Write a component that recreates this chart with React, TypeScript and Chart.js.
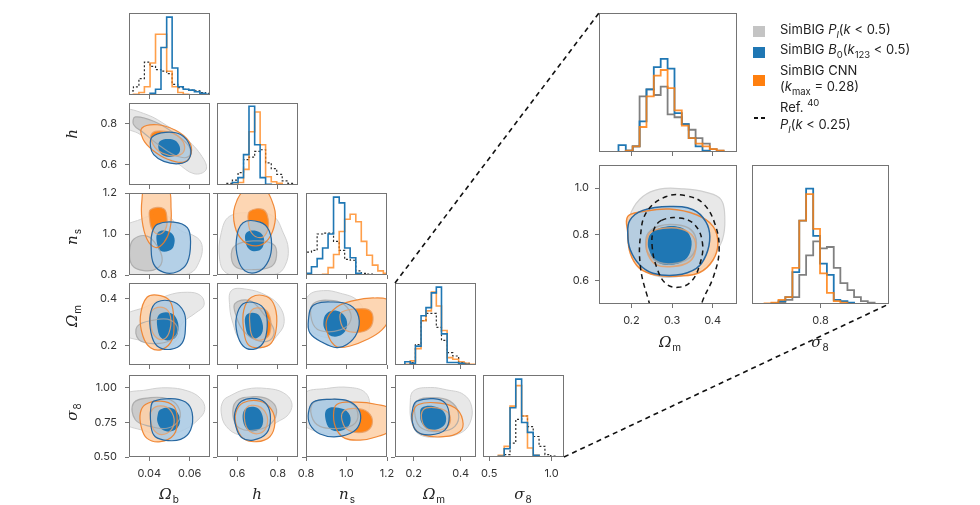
import React, { useEffect, useRef } from 'react';
import { Chart, registerables } from 'chart.js';

Chart.register(...registerables);

// ---------------- axis ranges & ticks ----------------
const OB_RANGE = [0.03, 0.07];
const H_RANGE = [0.5, 0.9];
const NS_RANGE = [0.8, 1.2];
const OM_RANGE = [0.12, 0.465];
const S8_RANGE = [0.5, 1.09];
const S8_HIST_RANGE = [0.45, 1.1];
const INSET_OM_RANGE = [0.12, 0.46];
const INSET_S8_RANGE = [0.5, 1.1];

const OB_TICKS = [0.04, 0.06];
const H_TICKS = [0.6, 0.8];
const NS_TICKS = [0.8, 1.0, 1.2];
const OM_TICKS = [0.2, 0.4];
const S8_TICKS_Y = [0.5, 0.75, 1.0];
const S8_TICKS_X = [0.5, 1.0];
const INSET_OM_TICKS = [0.2, 0.3, 0.4];
const INSET_S8_TICKS = [0.6, 0.8, 1.0];
const INSET_S8_HIST_TICKS = [0.8];

// ---------------- contours (x, y) : 2 = 95%, 1 = 68% ----------------
// Omega_b vs h
const OB_H_G2 = [[0.027,0.866],[0.0389,0.843],[0.0488,0.789],[0.0588,0.721],[0.067,0.624],[0.0679,0.572],[0.0621,0.555],[0.0538,0.607],[0.0439,0.672],[0.0356,0.746],[0.027,0.79]];
const OB_H_G1 = [[0.0331,0.832],[0.0422,0.811],[0.0521,0.754],[0.0596,0.689],[0.0596,0.64],[0.0538,0.64],[0.0455,0.689],[0.0373,0.754],[0.0323,0.794]];
const OB_H_O2 = [[0.0364,0.778],[0.0439,0.794],[0.053,0.767],[0.0596,0.713],[0.0607,0.653],[0.0571,0.612],[0.0488,0.627],[0.0414,0.672],[0.0369,0.724]];
const OB_H_O1 = [[0.0414,0.753],[0.0488,0.76],[0.0555,0.727],[0.0574,0.672],[0.0538,0.643],[0.0464,0.656],[0.0419,0.697]];
const OB_H_B2 = [[0.0414,0.734],[0.048,0.757],[0.0555,0.746],[0.0601,0.689],[0.0596,0.627],[0.0546,0.604],[0.0472,0.615],[0.0422,0.648],[0.0406,0.689]];
const OB_H_B1 = [[0.0452,0.713],[0.0505,0.724],[0.0541,0.705],[0.0551,0.664],[0.0521,0.64],[0.0472,0.643],[0.0447,0.672]];
// Omega_b vs n_s
const OB_NS_G2 = [[0.027,1.023],[0.0356,1.071],[0.0439,1.095],[0.0505,1.079],[0.0546,1.023],[0.0637,0.982],[0.0662,0.934],[0.0645,0.861],[0.0604,0.81],[0.0505,0.797],[0.0356,0.797],[0.027,0.821]];
const OB_NS_G1 = [[0.0323,0.974],[0.0389,0.99],[0.0439,0.942],[0.0464,0.877],[0.0439,0.832],[0.0373,0.821],[0.0315,0.848],[0.0303,0.918]];
const OB_NS_O2 = [[0.0381,1.224],[0.0488,1.224],[0.0508,1.119],[0.0502,1.023],[0.0472,0.958],[0.0431,0.934],[0.0389,0.974],[0.0364,1.071],[0.0364,1.168]];
const OB_NS_O1 = [[0.0406,1.119],[0.0472,1.123],[0.0488,1.071],[0.048,1.023],[0.0447,0.998],[0.0414,1.023],[0.0402,1.071]];
const OB_NS_B2 = [[0.0439,1.047],[0.0521,1.058],[0.0588,1.031],[0.0604,0.958],[0.0588,0.861],[0.0538,0.816],[0.0472,0.813],[0.0422,0.853],[0.0409,0.942],[0.0414,1.006]];
const OB_NS_B1 = [[0.0442,1.006],[0.0488,1.015],[0.0521,0.99],[0.0521,0.942],[0.0497,0.918],[0.0455,0.918],[0.0439,0.95]];
// h vs n_s
const H_NS_G2 = [[0.563,1.087],[0.679,1.103],[0.778,1.087],[0.827,1.006],[0.852,0.926],[0.836,0.845],[0.794,0.805],[0.645,0.794],[0.546,0.81],[0.513,0.877],[0.521,1.006]];
const H_NS_G1 = [[0.588,0.942],[0.679,0.966],[0.778,0.95],[0.794,0.894],[0.769,0.842],[0.679,0.826],[0.596,0.837],[0.571,0.885]];
const H_NS_O2 = [[0.645,1.224],[0.728,1.224],[0.781,1.135],[0.786,1.055],[0.753,0.974],[0.695,0.942],[0.629,0.966],[0.588,1.039],[0.588,1.135]];
const H_NS_O1 = [[0.662,1.111],[0.728,1.119],[0.753,1.071],[0.745,1.006],[0.712,0.982],[0.67,1.006],[0.654,1.063]];
const H_NS_B2 = [[0.629,1.055],[0.712,1.058],[0.758,1.015],[0.769,0.926],[0.745,0.853],[0.695,0.813],[0.637,0.821],[0.604,0.877],[0.596,0.974]];
const H_NS_B1 = [[0.645,1.006],[0.695,1.015],[0.728,0.99],[0.728,0.942],[0.703,0.918],[0.662,0.923],[0.642,0.958]];
// Omega_b vs Omega_m
const OB_OM_G2 = [[0.027,0.323],[0.0389,0.367],[0.0488,0.412],[0.0588,0.426],[0.0654,0.412],[0.067,0.371],[0.0629,0.339],[0.0563,0.295],[0.0538,0.227],[0.0472,0.197],[0.0373,0.22],[0.027,0.252]];
const OB_OM_G1 = [[0.034,0.282],[0.0422,0.309],[0.0505,0.309],[0.0541,0.268],[0.0505,0.224],[0.0422,0.21],[0.0348,0.227]];
const OB_OM_O2 = [[0.0389,0.405],[0.0455,0.412],[0.0505,0.385],[0.0521,0.309],[0.0513,0.227],[0.0464,0.186],[0.0406,0.193],[0.0369,0.241],[0.0356,0.323]];
const OB_OM_O1 = [[0.0414,0.35],[0.0472,0.361],[0.0505,0.323],[0.0497,0.254],[0.0464,0.227],[0.0422,0.248],[0.0406,0.302]];
const OB_OM_B2 = [[0.0439,0.385],[0.0521,0.385],[0.0571,0.343],[0.0579,0.282],[0.0563,0.213],[0.0505,0.186],[0.0439,0.2],[0.0409,0.254],[0.0406,0.337]];
const OB_OM_B1 = [[0.0447,0.33],[0.0505,0.339],[0.0538,0.309],[0.0541,0.254],[0.0513,0.227],[0.0464,0.23],[0.0442,0.268]];
// h vs Omega_m
const H_OM_G2 = [[0.571,0.433],[0.645,0.439],[0.745,0.412],[0.811,0.364],[0.831,0.295],[0.794,0.241],[0.745,0.2],[0.679,0.193],[0.612,0.227],[0.579,0.295],[0.563,0.364]];
const H_OM_G1 = [[0.588,0.378],[0.662,0.391],[0.728,0.337],[0.781,0.268],[0.761,0.224],[0.695,0.224],[0.629,0.265],[0.596,0.323]];
const H_OM_O2 = [[0.67,0.405],[0.745,0.408],[0.786,0.364],[0.794,0.282],[0.769,0.213],[0.712,0.193],[0.654,0.206],[0.632,0.268],[0.632,0.35]];
const H_OM_O1 = [[0.67,0.35],[0.728,0.357],[0.761,0.323],[0.761,0.254],[0.728,0.227],[0.679,0.234],[0.662,0.295]];
const H_OM_B2 = [[0.629,0.378],[0.695,0.38],[0.736,0.35],[0.748,0.282],[0.728,0.213],[0.679,0.186],[0.629,0.2],[0.599,0.254],[0.596,0.323]];
const H_OM_B1 = [[0.645,0.33],[0.695,0.337],[0.72,0.309],[0.725,0.261],[0.698,0.234],[0.662,0.238],[0.642,0.275]];
// n_s vs Omega_m
const NS_OM_G2 = [[0.812,0.412],[0.886,0.433],[0.969,0.422],[1.051,0.394],[1.088,0.337],[1.068,0.268],[1.002,0.238],[0.886,0.238],[0.812,0.275],[0.79,0.337]];
const NS_OM_G1 = [[0.836,0.378],[0.936,0.391],[1.002,0.364],[1.021,0.309],[0.969,0.268],[0.869,0.265],[0.828,0.309]];
const NS_OM_O2 = [[0.952,0.364],[1.035,0.391],[1.134,0.402],[1.215,0.389],[1.215,0.323],[1.175,0.268],[1.101,0.227],[1.018,0.2],[0.952,0.197],[0.911,0.241],[0.902,0.309]];
const NS_OM_O1 = [[0.977,0.343],[1.068,0.357],[1.117,0.348],[1.131,0.309],[1.109,0.271],[1.051,0.257],[0.993,0.268],[0.969,0.309]];
const NS_OM_B2 = [[0.836,0.371],[0.936,0.385],[1.018,0.371],[1.06,0.323],[1.051,0.254],[1.002,0.206],[0.952,0.193],[0.886,0.213],[0.82,0.254],[0.812,0.309]];
const NS_OM_B1 = [[0.902,0.337],[0.952,0.348],[0.993,0.323],[1.002,0.282],[0.977,0.248],[0.927,0.241],[0.894,0.268],[0.886,0.302]];
// Omega_b vs sigma_8
const OB_S8_G2 = [[0.027,0.939],[0.0389,0.983],[0.0488,0.998],[0.0588,0.976],[0.0654,0.92],[0.0674,0.841],[0.0641,0.768],[0.0571,0.695],[0.0472,0.659],[0.0373,0.69],[0.027,0.756]];
const OB_S8_G1 = [[0.0323,0.89],[0.0406,0.927],[0.0488,0.92],[0.0541,0.866],[0.0548,0.768],[0.0488,0.707],[0.0406,0.72],[0.0331,0.768]];
const OB_S8_O2 = [[0.0381,0.878],[0.0455,0.902],[0.0521,0.866],[0.0538,0.768],[0.0521,0.659],[0.0455,0.61],[0.0389,0.634],[0.036,0.72],[0.0356,0.817]];
const OB_S8_O1 = [[0.0414,0.841],[0.0472,0.866],[0.0513,0.817],[0.0521,0.732],[0.0488,0.671],[0.0439,0.671],[0.0409,0.744]];
const OB_S8_B2 = [[0.0422,0.902],[0.0505,0.92],[0.0579,0.895],[0.0612,0.817],[0.0604,0.695],[0.0555,0.627],[0.0472,0.622],[0.0422,0.659],[0.0406,0.768],[0.0409,0.866]];
const OB_S8_B1 = [[0.0455,0.841],[0.0505,0.854],[0.0541,0.817],[0.0551,0.744],[0.0521,0.69],[0.0472,0.69],[0.0442,0.744],[0.0442,0.805]];
// h vs sigma_8
const H_S8_G2 = [[0.563,0.939],[0.645,0.988],[0.745,0.993],[0.827,0.963],[0.869,0.89],[0.852,0.805],[0.794,0.749],[0.712,0.671],[0.612,0.659],[0.546,0.72],[0.521,0.817],[0.53,0.902]];
const H_S8_G1 = [[0.596,0.902],[0.679,0.934],[0.753,0.915],[0.794,0.841],[0.769,0.744],[0.695,0.695],[0.612,0.707],[0.579,0.793]];
const H_S8_O2 = [[0.629,0.89],[0.712,0.902],[0.769,0.841],[0.786,0.744],[0.761,0.646],[0.695,0.61],[0.629,0.634],[0.596,0.72],[0.593,0.817]];
const H_S8_O1 = [[0.645,0.854],[0.703,0.866],[0.745,0.805],[0.745,0.72],[0.712,0.671],[0.662,0.683],[0.637,0.756]];
const H_S8_B2 = [[0.621,0.902],[0.695,0.92],[0.745,0.878],[0.764,0.78],[0.745,0.671],[0.679,0.622],[0.621,0.641],[0.593,0.72],[0.588,0.817]];
const H_S8_B1 = [[0.637,0.841],[0.687,0.859],[0.72,0.817],[0.725,0.732],[0.695,0.69],[0.654,0.695],[0.629,0.756]];
// n_s vs sigma_8
const NS_S8_G2 = [[0.79,0.951],[0.902,0.993],[1.018,1.0],[1.093,0.963],[1.114,0.866],[1.084,0.756],[1.035,0.683],[0.952,0.666],[0.853,0.683],[0.79,0.744]];
const NS_S8_G1 = [[0.836,0.89],[0.919,0.915],[1.002,0.902],[1.051,0.841],[1.043,0.744],[0.969,0.707],[0.869,0.72],[0.828,0.793]];
const NS_S8_O2 = [[0.952,0.878],[1.051,0.895],[1.15,0.878],[1.215,0.841],[1.215,0.695],[1.15,0.646],[1.068,0.622],[0.993,0.634],[0.952,0.695],[0.936,0.793]];
const NS_S8_O1 = [[0.985,0.829],[1.068,0.846],[1.117,0.805],[1.126,0.732],[1.093,0.683],[1.026,0.683],[0.985,0.732]];
const NS_S8_B2 = [[0.836,0.895],[0.919,0.915],[1.01,0.902],[1.06,0.841],[1.068,0.756],[1.035,0.683],[0.952,0.646],[0.869,0.666],[0.82,0.732],[0.812,0.817]];
const NS_S8_B1 = [[0.902,0.841],[0.96,0.854],[1.01,0.817],[1.018,0.744],[0.985,0.695],[0.927,0.695],[0.899,0.756]];
// Omega_m vs sigma_8 (corner)
const OM_S8_G2 = [[0.199,0.976],[0.27,1.0],[0.34,0.983],[0.411,0.951],[0.446,0.866],[0.439,0.744],[0.397,0.671],[0.312,0.646],[0.227,0.659],[0.192,0.744],[0.185,0.89]];
const OM_S8_G1 = [[0.213,0.902],[0.284,0.927],[0.354,0.902],[0.39,0.817],[0.375,0.72],[0.312,0.683],[0.234,0.707],[0.206,0.793]];
const OM_S8_O2 = [[0.22,0.878],[0.298,0.89],[0.375,0.854],[0.408,0.768],[0.397,0.683],[0.326,0.646],[0.241,0.659],[0.199,0.72],[0.196,0.817]];
const OM_S8_O1 = [[0.241,0.841],[0.298,0.854],[0.347,0.817],[0.354,0.744],[0.326,0.7],[0.27,0.695],[0.238,0.744]];
const OM_S8_B2 = [[0.213,0.902],[0.284,0.92],[0.333,0.89],[0.351,0.793],[0.333,0.695],[0.27,0.659],[0.213,0.683],[0.192,0.768],[0.196,0.854]];
const OM_S8_B1 = [[0.234,0.854],[0.284,0.866],[0.326,0.829],[0.337,0.756],[0.312,0.707],[0.262,0.7],[0.234,0.744],[0.227,0.805]];
// Omega_m vs sigma_8 (zoomed inset)
const IN_G2 = [[0.2,0.899],[0.228,0.964],[0.269,0.996],[0.327,0.997],[0.384,0.982],[0.421,0.95],[0.43,0.863],[0.424,0.777],[0.405,0.719],[0.384,0.669],[0.335,0.625],[0.269,0.618],[0.22,0.662],[0.196,0.734],[0.191,0.82]];
const IN_G1 = [[0.241,0.806],[0.269,0.837],[0.31,0.842],[0.347,0.82],[0.36,0.762],[0.347,0.705],[0.31,0.676],[0.269,0.679],[0.241,0.719],[0.235,0.762]];
const IN_O2 = [[0.191,0.878],[0.228,0.899],[0.294,0.91],[0.36,0.885],[0.401,0.835],[0.413,0.762],[0.401,0.69],[0.368,0.636],[0.319,0.621],[0.261,0.625],[0.22,0.654],[0.197,0.719],[0.191,0.806]];
const IN_O1 = [[0.245,0.806],[0.278,0.827],[0.323,0.824],[0.352,0.791],[0.358,0.734],[0.343,0.683],[0.302,0.662],[0.261,0.669],[0.241,0.712],[0.237,0.755]];
const IN_B2 = [[0.196,0.861],[0.228,0.904],[0.294,0.921],[0.352,0.907],[0.383,0.856],[0.393,0.791],[0.384,0.712],[0.36,0.654],[0.31,0.625],[0.253,0.633],[0.22,0.669],[0.197,0.734],[0.191,0.798]];
const IN_B1 = [[0.249,0.806],[0.278,0.832],[0.319,0.832],[0.343,0.798],[0.347,0.741],[0.331,0.69],[0.294,0.669],[0.261,0.683],[0.243,0.734],[0.241,0.777]];
const REF_OUTER = [[0.31,0.3],[0.269,0.388],[0.237,0.546],[0.222,0.662],[0.222,0.791],[0.238,0.899],[0.286,0.964],[0.335,0.967],[0.376,0.935],[0.405,0.849],[0.416,0.734],[0.402,0.618],[0.376,0.517],[0.352,0.388]];
const REF_INNER = [[0.274,0.861],[0.319,0.871],[0.356,0.842],[0.375,0.762],[0.368,0.669],[0.347,0.597],[0.315,0.572],[0.284,0.589],[0.263,0.654],[0.251,0.748],[0.255,0.82]];

// ---------------- histograms (bin edges, heights as share of panel) ----------------
const OB_EDGES = [0.0295,0.0322,0.0349,0.0376,0.0404,0.0431,0.0458,0.0486,0.0513,0.0541,0.0568,0.0595,0.0623,0.065,0.0678,0.0705];
const OB_BLUE = [0,0,0,0,0.02,0.07,0.58,0.95,0.33,0.1,0.07,0.06,0.04,0.02,0.01];
const OB_ORANGE = [0,0.01,0.03,0.1,0.39,0.74,0.74,0.29,0.1,0.03,0.01,0,0,0,0];
const OB_REF = [0.05,0.1,0.2,0.4,0.35,0.31,0.29,0.26,0.13,0.09,0.07,0.06,0.05,0.03,0.02];

const H_EDGES = [0.495,0.522,0.549,0.576,0.604,0.631,0.658,0.686,0.713,0.74,0.768,0.795,0.822,0.85,0.877,0.904];
const H_BLUE = [0,0,0,0.03,0.09,0.37,0.96,0.49,0.09,0.01,0,0,0,0,0];
const H_ORANGE = [0,0,0,0.01,0.03,0.19,0.65,0.89,0.49,0.1,0.04,0.02,0,0,0];
const H_REF = [0,0,0.02,0.06,0.15,0.31,0.34,0.41,0.43,0.27,0.2,0.13,0.05,0.02,0];

const NS_EDGES = [0.8,0.827,0.855,0.882,0.909,0.936,0.964,0.991,1.018,1.046,1.073,1.1,1.128,1.155,1.182,1.209];
const NS_BLUE = [0.02,0.1,0.2,0.33,0.5,0.95,0.88,0.33,0.21,0.02,0,0,0,0,0];
const NS_ORANGE = [0,0,0,0.01,0.09,0.25,0.53,0.68,0.74,0.65,0.41,0.24,0.12,0.05,0.02];
const NS_REF = [0.28,0.3,0.5,0.51,0.51,0.41,0.3,0.19,0.18,0.05,0.02,0.01,0,0,0];

const OM_EDGES = [0.116,0.139,0.162,0.185,0.207,0.231,0.252,0.275,0.296,0.318,0.342,0.366,0.391,0.414,0.436,0.46];
const OM_BLUE = [0,0,0.04,0.02,0.23,0.6,0.7,0.88,0.95,0.38,0.03,0.03,0.02,0.01,0];
const OM_ORANGE = [0,0,0.01,0.05,0.2,0.54,0.66,0.89,0.72,0.42,0.09,0.07,0.04,0.02,0.01];
const OM_REF = [0,0,0,0.03,0.25,0.54,0.63,0.63,0.46,0.3,0.15,0.11,0.03,0.02,0];

const S8_EDGES = [0.48,0.527,0.573,0.62,0.667,0.713,0.76,0.807,0.853,0.9,0.947,0.993,1.04,1.087];
const S8_BLUE = [0,0,0.01,0.1,0.6,0.95,0.42,0.3,0.02,0,0,0,0];
const S8_ORANGE = [0,0,0.02,0.13,0.62,0.87,0.5,0.11,0.02,0,0,0,0];
const S8_REF = [0,0,0,0.03,0.17,0.46,0.5,0.37,0.25,0.13,0.03,0.01,0];

const IOM_EDGES = [0.134,0.151,0.168,0.186,0.203,0.22,0.237,0.255,0.272,0.289,0.306,0.324,0.341,0.358,0.375,0.393,0.41,0.427,0.444];
const IOM_BLUE = [0,0,0.05,0.01,0.04,0.22,0.45,0.61,0.67,0.6,0.28,0.2,0.1,0.04,0.01,0,0,0];
const IOM_ORANGE = [0,0,0,0.01,0.04,0.18,0.4,0.55,0.59,0.46,0.3,0.19,0.1,0.06,0.04,0.02,0.01,0];
const IOM_GRAY = [0,0,0,0.01,0.04,0.4,0.45,0.41,0.47,0.27,0.25,0.2,0.16,0.1,0.06,0.02,0.01,0];

const IS8_EDGES = [0.555,0.585,0.616,0.646,0.677,0.707,0.737,0.768,0.798,0.828,0.858,0.887,0.918,0.947,0.977,1.007,1.037];
const IS8_BLUE = [0,0.005,0.02,0.05,0.23,0.6,0.83,0.49,0.29,0.21,0.03,0.02,0.01,0,0,0];
const IS8_ORANGE = [0.005,0.01,0.03,0.05,0.26,0.6,0.79,0.54,0.22,0.08,0.02,0.01,0,0,0,0];
const IS8_GRAY = [0,0,0.01,0.03,0.05,0.21,0.35,0.45,0.4,0.41,0.26,0.15,0.1,0.05,0.02,0.01];

// ---------------- styling ----------------
const M = 40;
const FONT = "Inter, 'DejaVu Sans', sans-serif";
const SERIF = "'DejaVu Serif', 'Liberation Serif', serif";
const FRAME = '#747474';
const BLUE = '#1f77b4';
const ORANGE = '#ff7f0e';

const toPts = (arr) => arr.map(([x, y]) => ({ x, y }));

function fillDs(data, color) {
  return { data: toPts(data), showLine: true, closed: true, fill: 'shape', backgroundColor: color,
    borderWidth: 0, borderColor: 'rgba(0,0,0,0)', pointRadius: 0, pointHoverRadius: 0, tension: 0.4, capBezierPoints: false };
}
function lineDs(data, color, width, dash = []) {
  return { data: toPts(data), showLine: true, closed: true, fill: false, backgroundColor: 'rgba(0,0,0,0)',
    borderColor: color, borderWidth: width, borderDash: dash, pointRadius: 0, pointHoverRadius: 0, tension: 0.4, capBezierPoints: false };
}
function histDs(edges, counts, color, width, dash = []) {
  const pts = [{ x: edges[0], y: 0 }];
  counts.forEach((c, i) => pts.push({ x: edges[i], y: c }));
  pts.push({ x: edges[edges.length - 1], y: 0 });
  return { data: pts, showLine: true, stepped: true, fill: false, borderColor: color, borderWidth: width,
    borderDash: dash, pointRadius: 0, pointHoverRadius: 0, tension: 0 };
}
function contourDs(set, lw) {
  const [g2, g1, o2, o1, b2, b1] = set;
  return [
    fillDs(g2, '#e8e8e8'),
    lineDs(g2, '#cfcfcf', lw * 0.8),
    fillDs(g1, '#cbcbcb'),
    fillDs(o2, 'rgba(253,208,168,0.88)'),
    fillDs(o1, 'rgba(255,127,14,0.95)'),
    fillDs(b2, 'rgba(172,204,230,0.88)'),
    fillDs(b1, BLUE),
    lineDs(g1, 'rgba(165,165,165,0.8)', lw),
    lineDs(o2, 'rgba(240,128,40,0.9)', lw),
    lineDs(o1, 'rgba(232,160,105,0.85)', lw),
    lineDs(b2, '#2767a0', lw),
  ];
}

const loopPlugin = {
  id: 'closedLoops',
  afterDatasetsUpdate(chart) {
    chart.data.datasets.forEach((ds, i) => {
      if (!ds.closed) return;
      const line = chart.getDatasetMeta(i).dataset;
      if (!line) return;
      line._loop = true;
      line._fullLoop = true;
      line._segments = undefined;
      line._path = undefined;
      line._pointsUpdated = false;
    });
  },
};
const framePlugin = {
  id: 'frame',
  afterDatasetsDraw(chart) {
    const { ctx, chartArea: a } = chart;
    ctx.save();
    ctx.strokeStyle = FRAME;
    ctx.lineWidth = 1;
    ctx.strokeRect(Math.round(a.left) + 0.5, Math.round(a.top) + 0.5, Math.round(a.right - a.left) - 1, Math.round(a.bottom - a.top) - 1);
    ctx.restore();
  },
};

function makeConfig(spec) {
  const isHist = spec.kind === 'hist';
  const tickFont = { family: FONT, size: 11 };
  const grid = { display: true, drawOnChartArea: false, drawTicks: true, tickLength: 4, color: FRAME, lineWidth: 1 };
  const x = {
    type: 'linear', position: 'bottom', min: spec.xRange[0], max: spec.xRange[1],
    afterFit: (s) => { s.height = M; },
    afterBuildTicks: (s) => { s.ticks = spec.xTicks.map((v) => ({ value: v })); },
    ticks: { display: !!spec.xLabels, autoSkip: false, maxRotation: 0, minRotation: 0, padding: 6, color: '#333', font: tickFont,
      callback: (v) => Number(v).toFixed(spec.xDec) },
    grid, border: { display: false },
  };
  const y = isHist ? { type: 'linear', display: false, min: 0, max: 1 } : {
    type: 'linear', position: 'left', min: spec.yRange[0], max: spec.yRange[1],
    afterFit: (s) => { s.width = M; },
    afterBuildTicks: (s) => { s.ticks = spec.yTicks.map((v) => ({ value: v })); },
    ticks: { display: !!spec.yLabels, autoSkip: false, padding: spec.yPad ?? 8, color: '#333', font: tickFont,
      callback: (v) => Number(v).toFixed(spec.yDec) },
    grid, border: { display: false },
  };
  return {
    type: 'scatter',
    data: { datasets: spec.datasets.map((d, i) => ({ ...d, order: -i })) },
    options: {
      animation: false, responsive: false, devicePixelRatio: 1, events: [],
      layout: { padding: { top: M, right: M, bottom: 0, left: isHist ? M : 0 } },
      plugins: { legend: { display: false }, tooltip: { enabled: false } },
      scales: { x, y },
    },
    plugins: [loopPlugin, framePlugin],
  };
}

function Panel({ spec }) {
  const ref = useRef(null);
  useEffect(() => {
    const chart = new Chart(ref.current, makeConfig(spec));
    return () => chart.destroy();
  }, []);
  const w = spec.w + 2 * M;
  const h = spec.h + 2 * M;
  return (
    <canvas ref={ref} width={w} height={h}
      style={{ position: 'absolute', left: spec.left - M, top: spec.top - M, width: w, height: h }} />
  );
}

// ---------------- layout of the corner plot ----------------
const COLS = [129, 217, 306, 395, 483];
const ROWS = [13, 103, 193, 283, 375];
const PW = 81;
const PH = 82;

const PARAMS = [
  { range: OB_RANGE, ticks: OB_TICKS, dec: 2 },
  { range: H_RANGE, ticks: H_TICKS, dec: 1 },
  { range: NS_RANGE, ticks: NS_TICKS, dec: 1 },
  { range: OM_RANGE, ticks: OM_TICKS, dec: 1 },
  { range: S8_RANGE, ticks: S8_TICKS_Y, dec: 2, histRange: S8_HIST_RANGE, histTicks: S8_TICKS_X, histDec: 1 },
];
const HISTS = [
  [OB_EDGES, OB_BLUE, OB_ORANGE, OB_REF],
  [H_EDGES, H_BLUE, H_ORANGE, H_REF],
  [NS_EDGES, NS_BLUE, NS_ORANGE, NS_REF],
  [OM_EDGES, OM_BLUE, OM_ORANGE, OM_REF],
  [S8_EDGES, S8_BLUE, S8_ORANGE, S8_REF],
];
const CONTOURS = {
  '0-1': [OB_H_G2, OB_H_G1, OB_H_O2, OB_H_O1, OB_H_B2, OB_H_B1],
  '0-2': [OB_NS_G2, OB_NS_G1, OB_NS_O2, OB_NS_O1, OB_NS_B2, OB_NS_B1],
  '1-2': [H_NS_G2, H_NS_G1, H_NS_O2, H_NS_O1, H_NS_B2, H_NS_B1],
  '0-3': [OB_OM_G2, OB_OM_G1, OB_OM_O2, OB_OM_O1, OB_OM_B2, OB_OM_B1],
  '1-3': [H_OM_G2, H_OM_G1, H_OM_O2, H_OM_O1, H_OM_B2, H_OM_B1],
  '2-3': [NS_OM_G2, NS_OM_G1, NS_OM_O2, NS_OM_O1, NS_OM_B2, NS_OM_B1],
  '0-4': [OB_S8_G2, OB_S8_G1, OB_S8_O2, OB_S8_O1, OB_S8_B2, OB_S8_B1],
  '1-4': [H_S8_G2, H_S8_G1, H_S8_O2, H_S8_O1, H_S8_B2, H_S8_B1],
  '2-4': [NS_S8_G2, NS_S8_G1, NS_S8_O2, NS_S8_O1, NS_S8_B2, NS_S8_B1],
  '3-4': [OM_S8_G2, OM_S8_G1, OM_S8_O2, OM_S8_O1, OM_S8_B2, OM_S8_B1],
};

function buildSpecs() {
  const specs = [];
  for (let i = 0; i < 5; i++) {
    const p = PARAMS[i];
    const [edges, blue, orange, refd] = HISTS[i];
    specs.push({
      kind: 'hist', left: COLS[i], top: ROWS[i], w: PW, h: PH,
      xRange: p.histRange || p.range, xTicks: p.histTicks || p.ticks, xDec: p.histDec ?? p.dec, xLabels: i === 4,
      datasets: [
        histDs(edges, refd, '#2b2b2b', 1.2, [2, 2]),
        histDs(edges, orange, 'rgba(255,127,14,0.75)', 1.6),
        histDs(edges, blue, BLUE, 1.6),
      ],
    });
  }
  for (let r = 1; r < 5; r++) {
    for (let c = 0; c < r; c++) {
      const px = PARAMS[c];
      const py = PARAMS[r];
      specs.push({
        kind: 'contour', left: COLS[c], top: ROWS[r], w: PW, h: PH,
        xRange: px.range, xTicks: px.ticks, xDec: px.dec, xLabels: r === 4,
        yRange: py.range, yTicks: py.ticks, yDec: py.dec, yLabels: c === 0,
        datasets: contourDs(CONTOURS[`${c}-${r}`], 1.2),
      });
    }
  }
  // zoomed inset
  specs.push({
    kind: 'hist', left: 599, top: 13, w: 138, h: 139,
    xRange: INSET_OM_RANGE, xTicks: INSET_OM_TICKS, xDec: 1, xLabels: false,
    datasets: [
      histDs(IOM_EDGES, IOM_GRAY, '#808080', 1.8),
      histDs(IOM_EDGES, IOM_BLUE, BLUE, 1.8),
      histDs(IOM_EDGES, IOM_ORANGE, 'rgba(255,127,14,0.85)', 1.8),
    ],
  });
  specs.push({
    kind: 'contour', left: 599, top: 165, w: 138, h: 139,
    xRange: INSET_OM_RANGE, xTicks: INSET_OM_TICKS, xDec: 1, xLabels: true,
    yRange: INSET_S8_RANGE, yTicks: INSET_S8_TICKS, yDec: 1, yLabels: true, yPad: 6,
    datasets: [
      ...contourDs([IN_G2, IN_G1, IN_O2, IN_O1, IN_B2, IN_B1], 1.5),
      lineDs(REF_OUTER, '#151515', 1.5, [5, 4]),
      lineDs(REF_INNER, '#151515', 1.5, [5, 4]),
    ],
  });
  specs.push({
    kind: 'hist', left: 752, top: 165, w: 137, h: 139,
    xRange: INSET_S8_RANGE, xTicks: INSET_S8_HIST_TICKS, xDec: 1, xLabels: true,
    datasets: [
      histDs(IS8_EDGES, IS8_GRAY, '#808080', 1.8),
      histDs(IS8_EDGES, IS8_BLUE, BLUE, 1.8),
      histDs(IS8_EDGES, IS8_ORANGE, 'rgba(255,127,14,0.85)', 1.8),
    ],
  });
  return specs;
}

// ---------------- text overlays ----------------
const subStyle = { fontFamily: FONT, fontStyle: 'normal', fontSize: 10, position: 'relative', top: 4, marginLeft: 1 };

function AxisLabel({ x, y, sym, sub, rotate }) {
  return (
    <div style={{ position: 'absolute', left: x, top: y, transform: `translate(-50%, -50%)${rotate ? ' rotate(-90deg)' : ''}`,
      whiteSpace: 'nowrap', lineHeight: 1, color: '#222' }}>
      <span style={{ fontFamily: SERIF, fontStyle: 'italic', fontSize: 15 }}>{sym}</span>
      {sub ? <span style={subStyle}>{sub}</span> : null}
    </div>
  );
}

const it = { fontStyle: 'italic' };
const lsub = { fontSize: 9.5, position: 'relative', top: 4 };
const lsup = { fontSize: 9.5, position: 'relative', top: -6 };

function Legend() {
  const text = { position: 'absolute', left: 780, fontFamily: FONT, fontSize: 13, color: '#222', whiteSpace: 'nowrap', lineHeight: '16px' };
  const sq = { position: 'absolute', left: 753, width: 12, height: 11 };
  return (
    <>
      <div style={{ ...sq, top: 26, background: '#c4c4c4' }} />
      <div style={{ ...sq, top: 47, background: BLUE }} />
      <div style={{ ...sq, top: 75, background: ORANGE }} />
      <div style={{ position: 'absolute', left: 754, top: 117, width: 4, height: 1.6, background: '#111' }} />
      <div style={{ position: 'absolute', left: 761, top: 117, width: 4, height: 1.6, background: '#111' }} />
      <div style={{ ...text, top: 21 }}>SimBIG <span style={it}>P</span><span style={{ ...lsub, ...it }}>l</span>(<span style={it}>k</span> &lt; 0.5)</div>
      <div style={{ ...text, top: 41 }}>SimBIG <span style={it}>B</span><span style={lsub}>0</span>(<span style={it}>k</span><span style={lsub}>123</span> &lt; 0.5)</div>
      <div style={{ ...text, top: 62 }}>SimBIG CNN</div>
      <div style={{ ...text, top: 78 }}>(<span style={it}>k</span><span style={lsub}>max</span> = 0.28)</div>
      <div style={{ ...text, top: 99 }}>Ref. <span style={lsup}>40</span></div>
      <div style={{ ...text, top: 116 }}><span style={it}>P</span><span style={{ ...lsub, ...it }}>l</span>(<span style={it}>k</span> &lt; 0.25)</div>
    </>
  );
}

export default function App() {
  const specs = buildSpecs();
  return (
    <div style={{ position: 'fixed', left: 0, top: 0, width: 980, height: 505, background: '#fff', overflow: 'hidden' }}>
      {specs.map((s, i) => <Panel key={i} spec={s} />)}
      <svg width={980} height={505} style={{ position: 'absolute', left: 0, top: 0, pointerEvents: 'none' }}>
        <line x1={395} y1={283} x2={599} y2={13} stroke="#111" strokeWidth={1.6} strokeDasharray="5 4" />
        <line x1={564} y1={457} x2={889} y2={304} stroke="#111" strokeWidth={1.6} strokeDasharray="5 4" />
      </svg>
      <AxisLabel x={169} y={494} sym={'\u03A9'} sub="b" />
      <AxisLabel x={257} y={494} sym="h" />
      <AxisLabel x={347} y={494} sym="n" sub="s" />
      <AxisLabel x={434} y={494} sym={'\u03A9'} sub="m" />
      <AxisLabel x={523} y={494} sym={'\u03C3'} sub="8" />
      <AxisLabel x={72} y={134} sym="h" rotate />
      <AxisLabel x={72} y={237} sym="n" sub="s" rotate />
      <AxisLabel x={72} y={316} sym={'\u03A9'} sub="m" rotate />
      <AxisLabel x={72} y={412} sym={'\u03C3'} sub="8" rotate />
      <AxisLabel x={670} y={342} sym={'\u03A9'} sub="m" />
      <AxisLabel x={820} y={342} sym={'\u03C3'} sub="8" />
      <Legend />
    </div>
  );
}
